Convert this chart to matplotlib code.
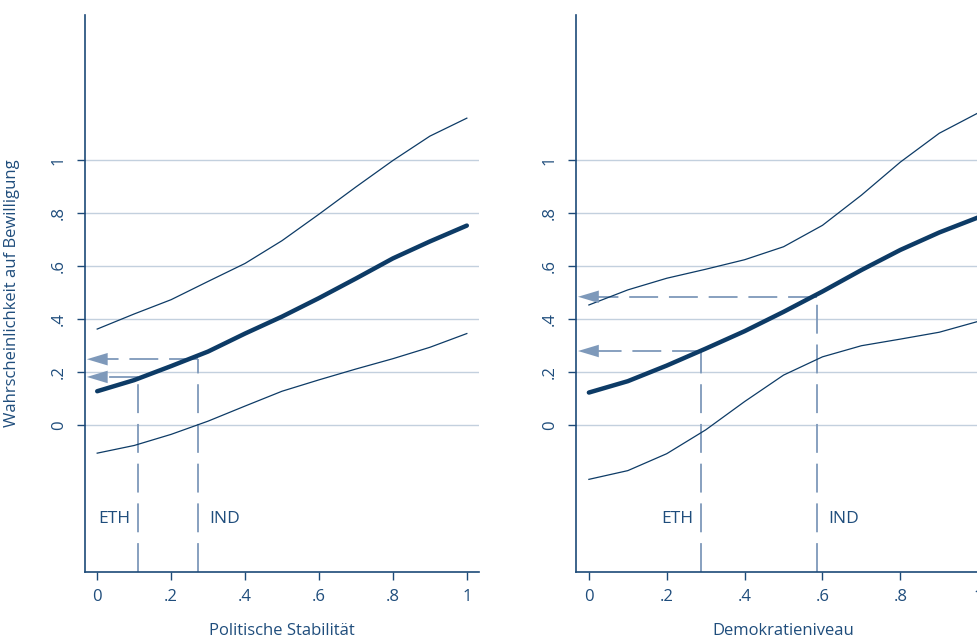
import matplotlib.pyplot as plt
import matplotlib.ticker as mticker

# x grid shared by both panels
x = [0, .1, .2, .3, .4, .5, .6, .7, .8, .9, 1]

# Politische Stabilitaet
stab_mid = [0.128, 0.17, 0.223, 0.278, 0.346, 0.41, 0.48, 0.554, 0.63, 0.694, 0.754]
stab_hi = [0.363, 0.42, 0.474, 0.543, 0.611, 0.697, 0.797, 0.90, 1.0, 1.092, 1.16]
stab_lo = [-0.106, -0.077, -0.035, 0.015, 0.072, 0.128, 0.171, 0.212, 0.251, 0.294, 0.346]
stab_marks = {"ETH": (0.111, 0.182), "IND": (0.274, 0.249)}

# Demokratieniveau
demo_mid = [0.123, 0.166, 0.225, 0.289, 0.355, 0.428, 0.505, 0.586, 0.662, 0.728, 0.785]
demo_hi = [0.454, 0.511, 0.555, 0.589, 0.625, 0.674, 0.755, 0.869, 0.994, 1.103, 1.18]
demo_lo = [-0.205, -0.172, -0.108, -0.018, 0.089, 0.189, 0.258, 0.30, 0.325, 0.351, 0.392]
demo_marks = {"ETH": (0.288, 0.28), "IND": (0.585, 0.485)}

yticks = [0, .2, .4, .6, .8, 1]
xticks = [0, .2, .4, .6, .8, 1]

navy = "#0d3b66"
axcol = "#1d4a78"
txtcol = "#1f4d7c"
gridcol = "#c3d0de"
dashcol = "#7e99ba"

plt.rcParams['font.family'] = ['Open Sans', 'DejaVu Sans']

fig = plt.figure(figsize=(9.77, 6.39), dpi=100)
ax1 = fig.add_axes([0.0870, 0.1049, 0.4033, 0.8717])
ax2 = fig.add_axes([0.5896, 0.1049, 0.4248, 0.8717])

ymin, ymax = -0.555, 1.55


def fmt(v, pos):
    if v == 0:
        return "0"
    if v == 1:
        return "1"
    return ("%.1f" % v).lstrip("0")


def panel(ax, mid, hi, lo, marks, xlabel):
    ax.set_xlim(-0.033, 1.033)
    ax.set_ylim(ymin, ymax)
    for t in yticks:
        ax.axhline(t, color=gridcol, lw=1, zorder=0)
    ax.plot(x, hi, color=navy, lw=0.9, zorder=3)
    ax.plot(x, lo, color=navy, lw=0.9, zorder=3)
    ax.plot(x, mid, color=navy, lw=3.2, solid_capstyle='round', zorder=4)

    dash = (0, (16, 6))
    for name, (px, py) in marks.items():
        ax.plot([px, px], [ymin, py], color=dashcol, lw=1.3, ls=dash, zorder=2)
        ax.plot([px, 0.0], [py, py], color=dashcol, lw=1.3, ls=dash, zorder=2)
        ax.annotate("", xy=(-0.028, py), xytext=(0.04, py),
                    arrowprops=dict(arrowstyle="-|>,head_length=1.5,head_width=0.45",
                                    color=dashcol, lw=0, shrinkA=0, shrinkB=0))
        if name == "ETH":
            ax.text(px - 0.02, -0.355, name, ha='right', va='center',
                    color=txtcol, fontsize=12.5)
        else:
            ax.text(px + 0.03, -0.355, name, ha='left', va='center',
                    color=txtcol, fontsize=12.5)

    ax.set_xticks(xticks)
    ax.set_yticks(yticks)
    ax.xaxis.set_major_formatter(mticker.FuncFormatter(fmt))
    ax.yaxis.set_major_formatter(mticker.FuncFormatter(fmt))
    ax.tick_params(colors=axcol, labelcolor=txtcol, labelsize=12,
                   length=6, width=1)
    ax.tick_params(axis='x', pad=6)
    ax.tick_params(axis='y', pad=7)
    for lab in ax.get_yticklabels():
        lab.set_rotation(90)
        lab.set_va('center')
    for s in ["top", "right"]:
        ax.spines[s].set_visible(False)
    for s in ["left", "bottom"]:
        ax.spines[s].set_color(axcol)
        ax.spines[s].set_linewidth(1.2)
    ax.set_xlabel(xlabel, color=txtcol, fontsize=12, labelpad=13)


panel(ax1, stab_mid, stab_hi, stab_lo, stab_marks, "Politische Stabilität")
panel(ax2, demo_mid, demo_hi, demo_lo, demo_marks, "Demokratieniveau")
ax1.set_ylabel("Wahrscheinlichkeit auf Bewilligung", color=txtcol,
               fontsize=12, labelpad=22)

fig.savefig("out.png", dpi=100)
